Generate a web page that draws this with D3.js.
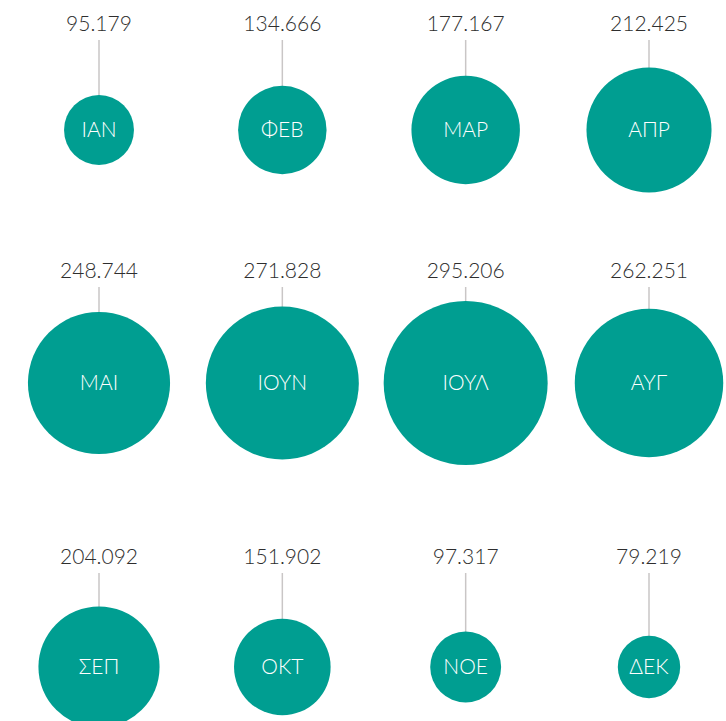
<!DOCTYPE html>
<html>
<head>
<meta charset="utf-8">
<script src="https://cdn.jsdelivr.net/npm/d3@7"></script>
<style>
  body { margin: 0; background: #fff; }
  .chart text { font-family: Lato, "Noto Sans", sans-serif; font-weight: 300; }
</style>
</head>
<body>
<div class="chart"></div>
<script>

let months = ['ΙΑΝ', 'ΦΕΒ', 'ΜΑΡ', 'ΑΠΡ', 'ΜΑΙ', 'ΙΟΥΝ', 'ΙΟΥΛ', 'ΑΥΓ', 'ΣΕΠ', 'ΟΚΤ', 'ΝΟΕ', 'ΔΕΚ'];
let values = [95179, 134666, 177167, 212425, 248744, 271828, 295206, 262251, 204092, 151902, 97317, 79219];

let width = 726;
let height = 721;
let cols = 4;

// row layout: circle centre and label baseline
let rowCenter = [130, 383, 667];
let rowLabel = [31, 278, 564];

let fmt = d3.format(',');
let formatValue = v => fmt(v).replace(/,/g, '.');

let svg = d3.select('.chart')
  .append('svg')
    .attr('width', width)
    .attr('height', height);

let xScale = d3.scalePoint()
  .domain(d3.range(cols))
  .range([99, 649]);

let rScale = d3.scaleLinear()
  .domain([d3.min(values), d3.max(values)])
  .range([31.2, 82]);

let data = months.map((m, i) => ({
  month: m,
  value: values[i],
  col: i % cols,
  row: Math.floor(i / cols)
}));

let cell = svg.selectAll('g.cell')
  .data(data)
  .enter()
  .append('g')
    .attr('class', 'cell')
    .attr('transform', d => `translate(${xScale(d.col)}, 0)`);

cell.append('line')
  .attr('x1', 0)
  .attr('x2', 0)
  .attr('y1', d => rowLabel[d.row] + 9)
  .attr('y2', d => rowCenter[d.row] - rScale(d.value) + 1)
  .style('stroke', '#c9c6c6')
  .style('stroke-width', 1.5);

cell.append('circle')
  .attr('cy', d => rowCenter[d.row])
  .attr('r', d => rScale(d.value))
  .style('fill', '#009e91');

cell.append('text')
  .attr('y', d => rowLabel[d.row])
  .attr('text-anchor', 'middle')
  .style('font-size', '21px')
  .style('fill', '#2e2e2e')
  .text(d => formatValue(d.value));

cell.append('text')
  .attr('y', d => rowCenter[d.row])
  .attr('dy', '0.35em')
  .attr('text-anchor', 'middle')
  .style('font-size', '21px')
  .style('fill', '#fff')
  .text(d => d.month);

</script>
</body>
</html>
